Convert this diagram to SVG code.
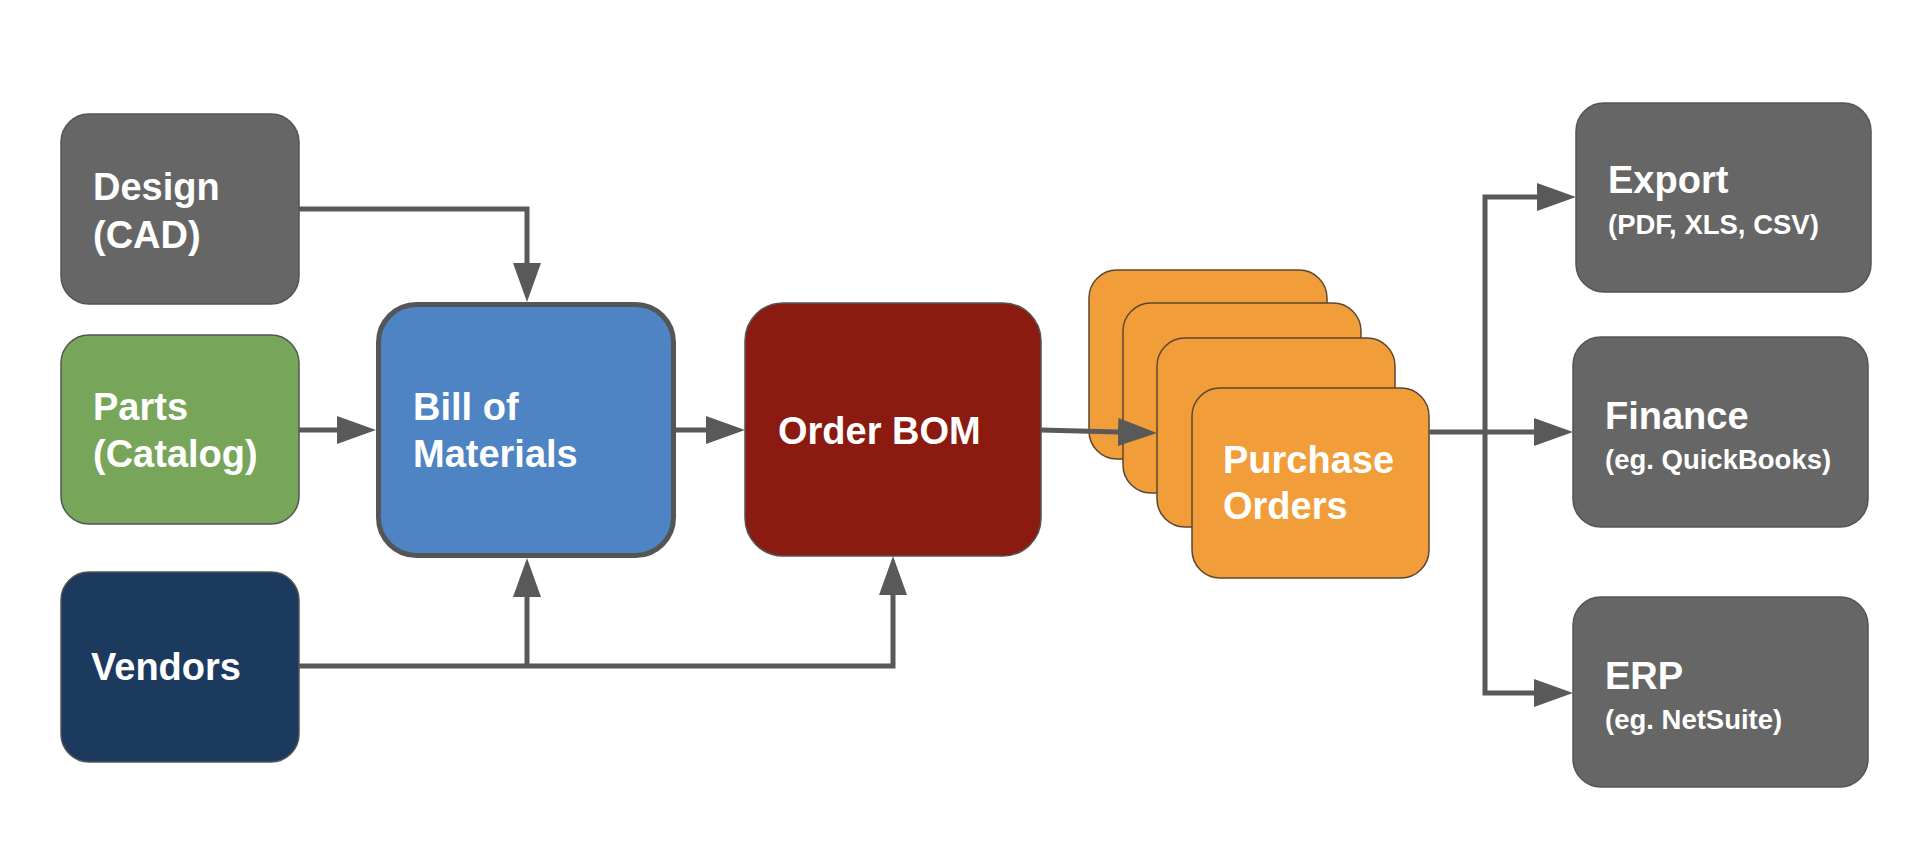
<svg xmlns="http://www.w3.org/2000/svg" width="1930" height="860" viewBox="0 0 1930 860">
<style>
.node{stroke:#545454;stroke-width:1.5}
.grey{fill:#666666}
.green{fill:#77a55a}
.navy{fill:#1b3a5e}
.blue{fill:#4e84c3;stroke:#555555;stroke-width:5}
.red{fill:#8b1a10}
.orange{fill:#f19e3a;stroke:#5c4630;stroke-width:1.5}
.t{font-family:"Liberation Sans",Arial,sans-serif;font-weight:bold;fill:#ffffff;font-size:38px}
.s{font-family:"Liberation Sans",Arial,sans-serif;font-weight:bold;fill:#ffffff;font-size:27.5px}
.c{fill:none;stroke:#595959;stroke-width:5;stroke-linejoin:miter}
</style>
<defs>
<marker id="ah" viewBox="0 0 39 28" refX="19" refY="14" markerWidth="39" markerHeight="28" markerUnits="userSpaceOnUse" orient="auto-start-reverse">
<path d="M0,0 L39,14 L0,28 Z" fill="#595959"/>
</marker>
</defs>
<rect width="1930" height="860" fill="#ffffff"/>

<g id="design">
<rect class="node grey" x="61" y="114" width="238" height="190" rx="28"/>
<text class="t" x="93" y="200">Design</text>
<text class="t" x="93" y="248">(CAD)</text>
</g>
<g id="parts">
<rect class="node green" x="61" y="335" width="238" height="189" rx="28"/>
<text class="t" x="93" y="420">Parts</text>
<text class="t" x="93" y="467">(Catalog)</text>
</g>
<g id="vendors">
<rect class="node navy" x="61" y="572" width="238" height="190" rx="28"/>
<text class="t" x="91" y="680">Vendors</text>
</g>
<g id="bom">
<rect class="blue" x="378.5" y="304.5" width="295" height="251" rx="38"/>
<text class="t" x="413" y="420">Bill of</text>
<text class="t" x="413" y="467">Materials</text>
</g>
<g id="order-bom">
<rect class="node red" x="745" y="303" width="296" height="253" rx="38"/>
<text class="t" x="778" y="444">Order BOM</text>
</g>
<g id="purchase-orders">
<rect class="orange" x="1089" y="270" width="238" height="189" rx="28"/>
<rect class="orange" x="1123" y="303" width="238" height="190" rx="28"/>
<rect class="orange" x="1157" y="338" width="238" height="189" rx="28"/>
<rect class="orange" x="1192" y="388" width="237" height="190" rx="28"/>
<text class="t" x="1223" y="473">Purchase</text>
<text class="t" x="1223" y="519">Orders</text>
</g>
<g id="export">
<rect class="node grey" x="1576" y="103" width="295" height="189" rx="28"/>
<text class="t" x="1608" y="193">Export</text>
<text class="s" x="1608" y="234">(PDF, XLS, CSV)</text>
</g>
<g id="finance">
<rect class="node grey" x="1573" y="337" width="295" height="190" rx="28"/>
<text class="t" x="1605" y="429">Finance</text>
<text class="s" x="1605" y="469">(eg. QuickBooks)</text>
</g>
<g id="erp">
<rect class="node grey" x="1573" y="597" width="295" height="190" rx="28"/>
<text class="t" x="1605" y="689">ERP</text>
<text class="s" x="1605" y="729">(eg. NetSuite)</text>
</g>

<g id="connectors">
<path class="c" d="M299,209 H527 V282" marker-end="url(#ah)"/>
<path class="c" d="M299,430 H356" marker-end="url(#ah)"/>
<path class="c" d="M676,430 H725" marker-end="url(#ah)"/>
<path class="c" d="M1041,430 L1137,432.5" marker-end="url(#ah)"/>
<path class="c" d="M299,666 H893 V576" marker-end="url(#ah)"/>
<path class="c" d="M527,666 V578" marker-end="url(#ah)"/>
<path class="c" d="M1429,432 H1553" marker-end="url(#ah)"/>
<path class="c" d="M1553,693 H1485 V197 H1556" marker-start="url(#ah)" marker-end="url(#ah)"/>
</g>
</svg>
